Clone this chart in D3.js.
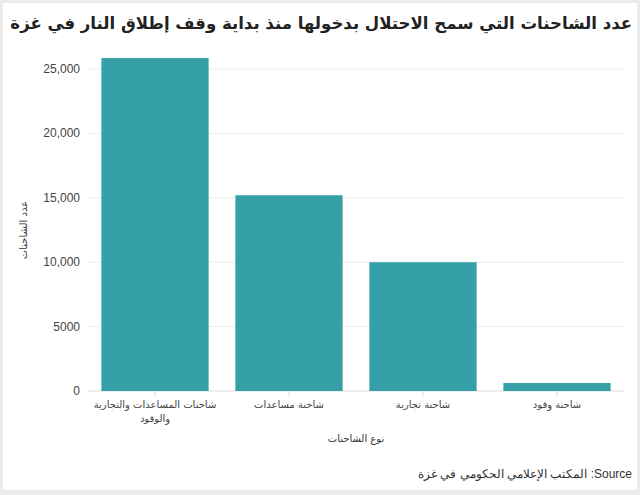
<!DOCTYPE html>
<html><head><meta charset="utf-8">
<script src="https://cdn.jsdelivr.net/npm/d3@7"></script>
<style>body{margin:0;background:#ececec;}svg{display:block;}</style>
</head><body>
<svg id="c" width="640" height="495"></svg>
<script>
const categories = ["شاحنات المساعدات والتجارية والوقود","شاحنة مساعدات","شاحنة تجارية","شاحنة وقود"];
const values = [25850, 15200, 10000, 620];
const yTicks = [0, 5000, 10000, 15000, 20000, 25000];
const yTickLabels = ["0","5000","10,000","15,000","20,000","25,000"];

const svg = d3.select("#c");
svg.append("rect").attr("x",3).attr("y",3).attr("width",634).attr("height",487).attr("fill","#fff");
const font = "Liberation Sans, Arial, sans-serif";
const title = svg.append("text").attr("x",632).attr("y",29).attr("text-anchor","start").attr("direction","rtl")
  .attr("font-family","DejaVu Sans, sans-serif").attr("font-weight","bold").attr("font-size",20).attr("fill","#222")
  .text("عدد الشاحنات التي سمح الاحتلال بدخولها منذ بداية وقف إطلاق النار في غزة");
const tw = title.node().getComputedTextLength();
if (tw > 622) title.attr("font-size", 20*622/tw);

const x = d3.scaleBand().domain(categories).range([88,624]).paddingInner(0.2).paddingOuter(0.1);
const y = d3.scaleLinear().domain([0,25000]).range([391,69]);

const g = svg.append("g");
g.selectAll("line.grid").data(yTicks).join("line").attr("x1",88).attr("x2",624)
  .attr("y1",d=>y(d)).attr("y2",d=>y(d)).attr("stroke",d=>d===0?"#ddd":"#eee");
g.selectAll("text.yt").data(yTicks).join("text").attr("x",80).attr("y",d=>y(d)+4)
  .attr("text-anchor","end").attr("font-family",font).attr("font-size",12).attr("fill","#444")
  .text((d,i)=>yTickLabels[i]);
g.selectAll("line.xt").data(categories).join("line").attr("x1",d=>x(d)+x.bandwidth()/2).attr("x2",d=>x(d)+x.bandwidth()/2)
  .attr("y1",391).attr("y2",397).attr("stroke","#ddd");
g.selectAll("rect.bar").data(values).join("rect").attr("x",(d,i)=>x(categories[i])).attr("width",x.bandwidth())
  .attr("y",d=>y(d)).attr("height",d=>391-y(d)).attr("fill","#35a0a8");

const lines = [["شاحنات المساعدات والتجارية","والوقود"],["شاحنة مساعدات"],["شاحنة تجارية"],["شاحنة وقود"]];
categories.forEach((c,i)=>{
  lines[i].forEach((t,j)=>{
    svg.append("text").attr("x",x(c)+x.bandwidth()/2).attr("y",408+j*14).attr("text-anchor","middle")
      .attr("direction","rtl").attr("font-family","DejaVu Sans, sans-serif").attr("font-size",10).attr("fill","#444").text(t);
  });
});
svg.append("text").attr("x",356).attr("y",442).attr("text-anchor","middle").attr("direction","rtl")
  .attr("font-family","DejaVu Sans, sans-serif").attr("font-size",10).attr("fill","#333").text("نوع الشاحنات");
svg.append("text").attr("transform","translate(27,230) rotate(-90)").attr("text-anchor","middle").attr("direction","rtl")
  .attr("font-family","DejaVu Sans, sans-serif").attr("font-size",10).attr("fill","#333").text("عدد الشاحنات");
svg.append("text").attr("x",632).attr("y",478).attr("text-anchor","end")
  .attr("font-family",font).attr("font-size",12).attr("fill","#333")
  .text("المكتب الإعلامي الحكومي في غزة :Source");
</script>
</body></html>
